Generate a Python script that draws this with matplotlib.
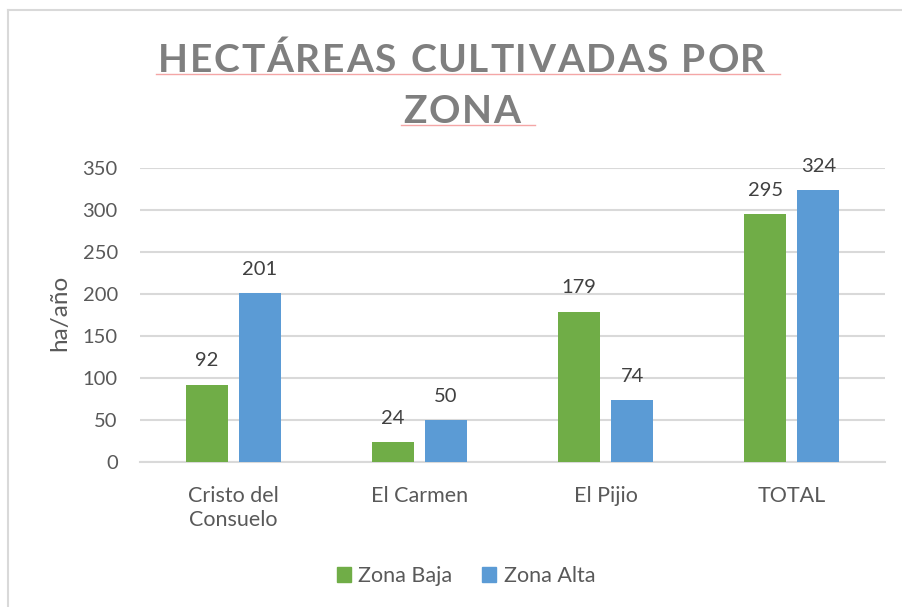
import matplotlib
matplotlib.use("Agg")
import matplotlib.pyplot as plt
from matplotlib.lines import Line2D
from matplotlib.patches import Patch
import numpy as np

categories = ["Cristo del\nConsuelo", "El Carmen", "El Pijio", "TOTAL"]
zona_baja = [92, 24, 179, 295]
zona_alta = [201, 50, 74, 324]
series_names = ["Zona Baja", "Zona Alta"]
title_lines = ["HECTÁREAS CULTIVADAS POR ", "ZONA "]
y_label = "ha/año"

GREEN = "#70AD47"
BLUE = "#5B9BD5"
TXT = "#595959"
GRID = "#D9D9D9"

plt.rcParams['font.family'] = ['Lato', 'DejaVu Sans']

W, H = 903, 607
fig = plt.figure(figsize=(W / 100, H / 100), dpi=100)

def fx(px):
    return px / W

def fy(py):
    return 1 - py / H

ax = fig.add_axes([fx(140), fy(462), fx(885) - fx(140), fy(168) - fy(462)])

x = np.arange(len(categories))
bw = 0.226
gap = 0.059
off = (bw + gap) / 2
b1 = ax.bar(x - off, zona_baja, bw, color=GREEN, zorder=3, label=series_names[0])
b2 = ax.bar(x + off, zona_alta, bw, color=BLUE, zorder=3, label=series_names[1])

for bars, vals in ((b1, zona_baja), (b2, zona_alta)):
    for r, v in zip(bars, vals):
        ax.annotate(str(v), (r.get_x() + r.get_width() / 2, r.get_height()),
                    xytext=(0, 11), textcoords="offset points",
                    ha="center", va="bottom", fontsize=14.5, color="#404040", zorder=4)

ax.set_xlim(-0.5, len(categories) - 0.5)
ax.set_ylim(0, 350)
ax.set_yticks(np.arange(0, 351, 50))
ax.yaxis.grid(True, color=GRID, linewidth=1.5, zorder=0)
ax.set_axisbelow(True)
for s in ("left", "right", "top"):
    ax.spines[s].set_visible(False)
ax.spines["bottom"].set_color(GRID)
ax.spines["bottom"].set_linewidth(1.5)
ax.set_xticks(x)
ax.set_xticklabels(categories, fontsize=15.5, color=TXT, linespacing=1.3)
ax.tick_params(axis="x", length=0, pad=17)
ax.tick_params(axis="y", length=0, pad=16, labelsize=14.5, labelcolor=TXT)

fig.text(fx(60), fy(313), y_label, rotation=90, ha="center", va="center",
         fontsize=17.5, color=TXT)

# Title with letter spacing
renderer = fig.canvas.get_renderer()
title_kw = dict(fontsize=28, fontweight="bold", color="#7F7F7F")
baselines = [72, 123]
center_x = 468
spacing = 1.7
for line, base in zip(title_lines, baselines):
    widths = []
    for ch in line:
        t = fig.text(0, 0, ch if ch != " " else "n", **title_kw)
        bb = t.get_window_extent(renderer)
        widths.append(bb.width * (0.5 if ch == " " else 1.0))
        t.remove()
    total = sum(widths) + spacing * (len(line) - 1)
    cur = center_x - total / 2
    for ch, w in zip(line, widths):
        if ch != " ":
            fig.text(fx(cur), fy(base), ch, ha="left", va="baseline", **title_kw)
        cur += w + spacing
    start = center_x - total / 2
    fig.add_artist(Line2D([fx(start - 2), fx(start + total + 2)], [fy(base + 2), fy(base + 2)],
                          color="#F4A6A6", linewidth=1.0, transform=fig.transFigure))

# Legend
handles = [Patch(color=GREEN, label=series_names[0]), Patch(color=BLUE, label=series_names[1])]
leg = fig.legend(handles=handles, loc="center", bbox_to_anchor=(fx(466), fy(576)), ncol=2,
                 frameon=False, fontsize=15.5, handlelength=0.65, handleheight=0.65,
                 handletextpad=0.35, columnspacing=1.4)
for t in leg.get_texts():
    t.set_color(TXT)

# Chart border
fig.add_artist(Line2D([fx(8), fx(8)], [fy(10), 0], color=GRID, linewidth=1.5, transform=fig.transFigure))
fig.add_artist(Line2D([fx(8), 1], [fy(10), fy(10)], color=GRID, linewidth=1.5, transform=fig.transFigure))

fig.savefig("out.png", dpi=100)
